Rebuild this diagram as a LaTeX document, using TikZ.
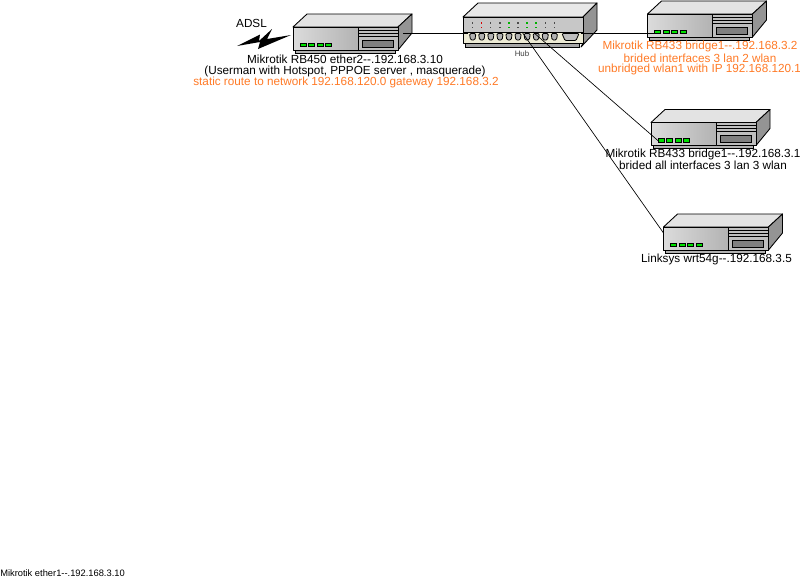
\documentclass[tikz,border=0pt]{standalone}
\usepackage{fontspec}
\setmainfont{Liberation Sans}
\definecolor{orangetxt}{HTML}{FF7A26}
\definecolor{ledg}{HTML}{00E000}
\definecolor{cream}{HTML}{EDEBD5}
\tikzset{
  x=0.75pt,y=-0.75pt,
  edge/.style={draw=black,line width=0.5pt},
  lab/.style={font=\fontsize{8.8pt}{10pt}\selectfont,align=center,inner sep=0pt,text=black},
  laborange/.style={lab,text=orangetxt},
  outl/.style={draw=black,line width=0.65pt,line join=round},
  router/.pic={
    \fill[draw=black,line width=0.4pt,fill=gray!60] (2,22) rectangle (102,26);
    \path[outl,fill=black!11] (0,0) -- (14,-13) -- (119,-13) -- (105,0) -- cycle;
    \path[outl,fill=black!42] (105,0) -- (119,-13) -- (119,6) -- (105,23) -- cycle;
    \path[outl,left color=black!14,right color=black!30] (0,0) rectangle (65,23);
    \path[outl,fill=black!25] (65,0) rectangle (105,23);
    \foreach \yy in {3,6,9} \draw[black,line width=0.7pt] (65,\yy) -- (105,\yy);
    \path[draw=black,line width=0.6pt,fill=black!50] (69,13) rectangle (100,20);
    \foreach \xx in {7,15.5,24,32.5} \path[draw=black,line width=0.5pt,fill=ledg] (\xx,16) rectangle +(6,3.4);
    \coordinate (-w) at (0,6);
    \coordinate (-led) at (8,19);
    \coordinate (-e) at (110,6);
  },
  hub/.pic={
    \fill[draw=black,line width=0.4pt,fill=gray!70] (2,26) rectangle (116,30);
    \path[outl,fill=black!9] (0,0) -- (15,-14) -- (134,-14) -- (120,0) -- cycle;
    \path[outl,fill=black!42] (120,0) -- (134,-14) -- (134,13) -- (118,30) -- (120,26) -- cycle;
    \path[outl,fill=black!22] (0,0) rectangle (120,15);
    \path[outl,fill=cream] (0,15) rectangle (120,26);
  }
}
\begin{document}
\begin{tikzpicture}
\useasboundingbox (0,0) rectangle (800,579);
\fill[white] (0,0) rectangle (800,579);

\coordinate (hubW) at (468,33);
\coordinate (hubE) at (581,33);
\coordinate (hubA) at (522,32);
\coordinate (hubB) at (533,32);

\pic (r1) at (293,27) {router};
\pic (r2) at (647.5,14) {router};
\pic (r3) at (651,122.5) {router};
\pic (r4) at (663.5,227) {router};

\pic (hubbox) at (463,17) {hub};
\foreach \i in {0,...,9} {
  \pgfmathsetmacro{\xa}{472.7+\i*9.07}
  \fill[black!70] (\xa-0.6,22.2) rectangle (\xa+0.6,23.7);
  \fill[black!70] (\xa-0.6,26.8) rectangle (\xa+0.6,28.2);
  \path[draw=black,line width=0.6pt,fill=black!30,rounded corners=1pt] (\xa-3.2,33.5) -- (\xa+3.2,33.5) -- (\xa+2.2,40) -- (\xa-2.2,40) -- cycle;
}
\fill[red!85!black] (481.1,22.2) rectangle (482.3,23.7);
\fill[red!85!black] (481.1,26.8) rectangle (482.3,28.2);
\foreach \xb in {508.2,526.3,535.3} {
  \fill[green!70!black] (\xb,21.8) rectangle (\xb+1.6,23.7);
  \fill[green!70!black] (\xb,26.5) rectangle (\xb+1.6,28.2);
}
\path[draw=black,line width=0.6pt,fill=black!25,rounded corners=0.8pt] (562,33.5) -- (579,33.5) -- (576,40.5) -- (565,40.5) -- cycle;

\draw[edge] (r1-e) -- (hubW);
\draw[edge] (hubE) -- (r2-led);
\draw[edge] (hubA) -- (r4-w);
\draw[edge] (hubB) -- (r3-led);

\fill[black] (237,46) -- (260,34.5) -- (259,41) -- (272,29) -- (267,39) -- (291,35) -- (258,49) -- (260,42) -- cycle;

\node[lab] (adsl) at (251.5,23) {ADSL};
\node[lab,font=\fontsize{5.9pt}{7pt}\selectfont,text=black!75] (hublabel) at (522,54) {Hub};
\node[lab] (r1a) at (345,59.5) {Mikrotik RB450 ether2-{}-.192.168.3.10};
\node[lab] (r1b) at (345,71) {(Userman with Hotspot, PPPOE server , masquerade)};
\node[laborange] (r1c) at (346,82.5) {static route to network 192.168.120.0 gateway 192.168.3.2};
\node[laborange] (r2a) at (700,46.5) {Mikrotik RB433 bridge1-{}-.192.168.3.2};
\node[laborange] (r2b) at (700,58) {brided interfaces 3 lan 2 wlan};
\node[laborange] (r2c) at (699.5,69) {unbridged wlan1 with IP 192.168.120.1};
\node[lab] (r3a) at (703,154) {Mikrotik RB433 bridge1-{}-.192.168.3.1};
\node[lab] (r3b) at (703,165.5) {brided all interfaces 3 lan 3 wlan};
\node[lab] (r4a) at (716.5,259.5) {Linksys wrt54g-{}-.192.168.3.5};
\node[lab,anchor=west,font=\fontsize{7pt}{8pt}\selectfont] (foot) at (0,573) {Mikrotik ether1-{}-.192.168.3.10};
\end{tikzpicture}
\end{document}
